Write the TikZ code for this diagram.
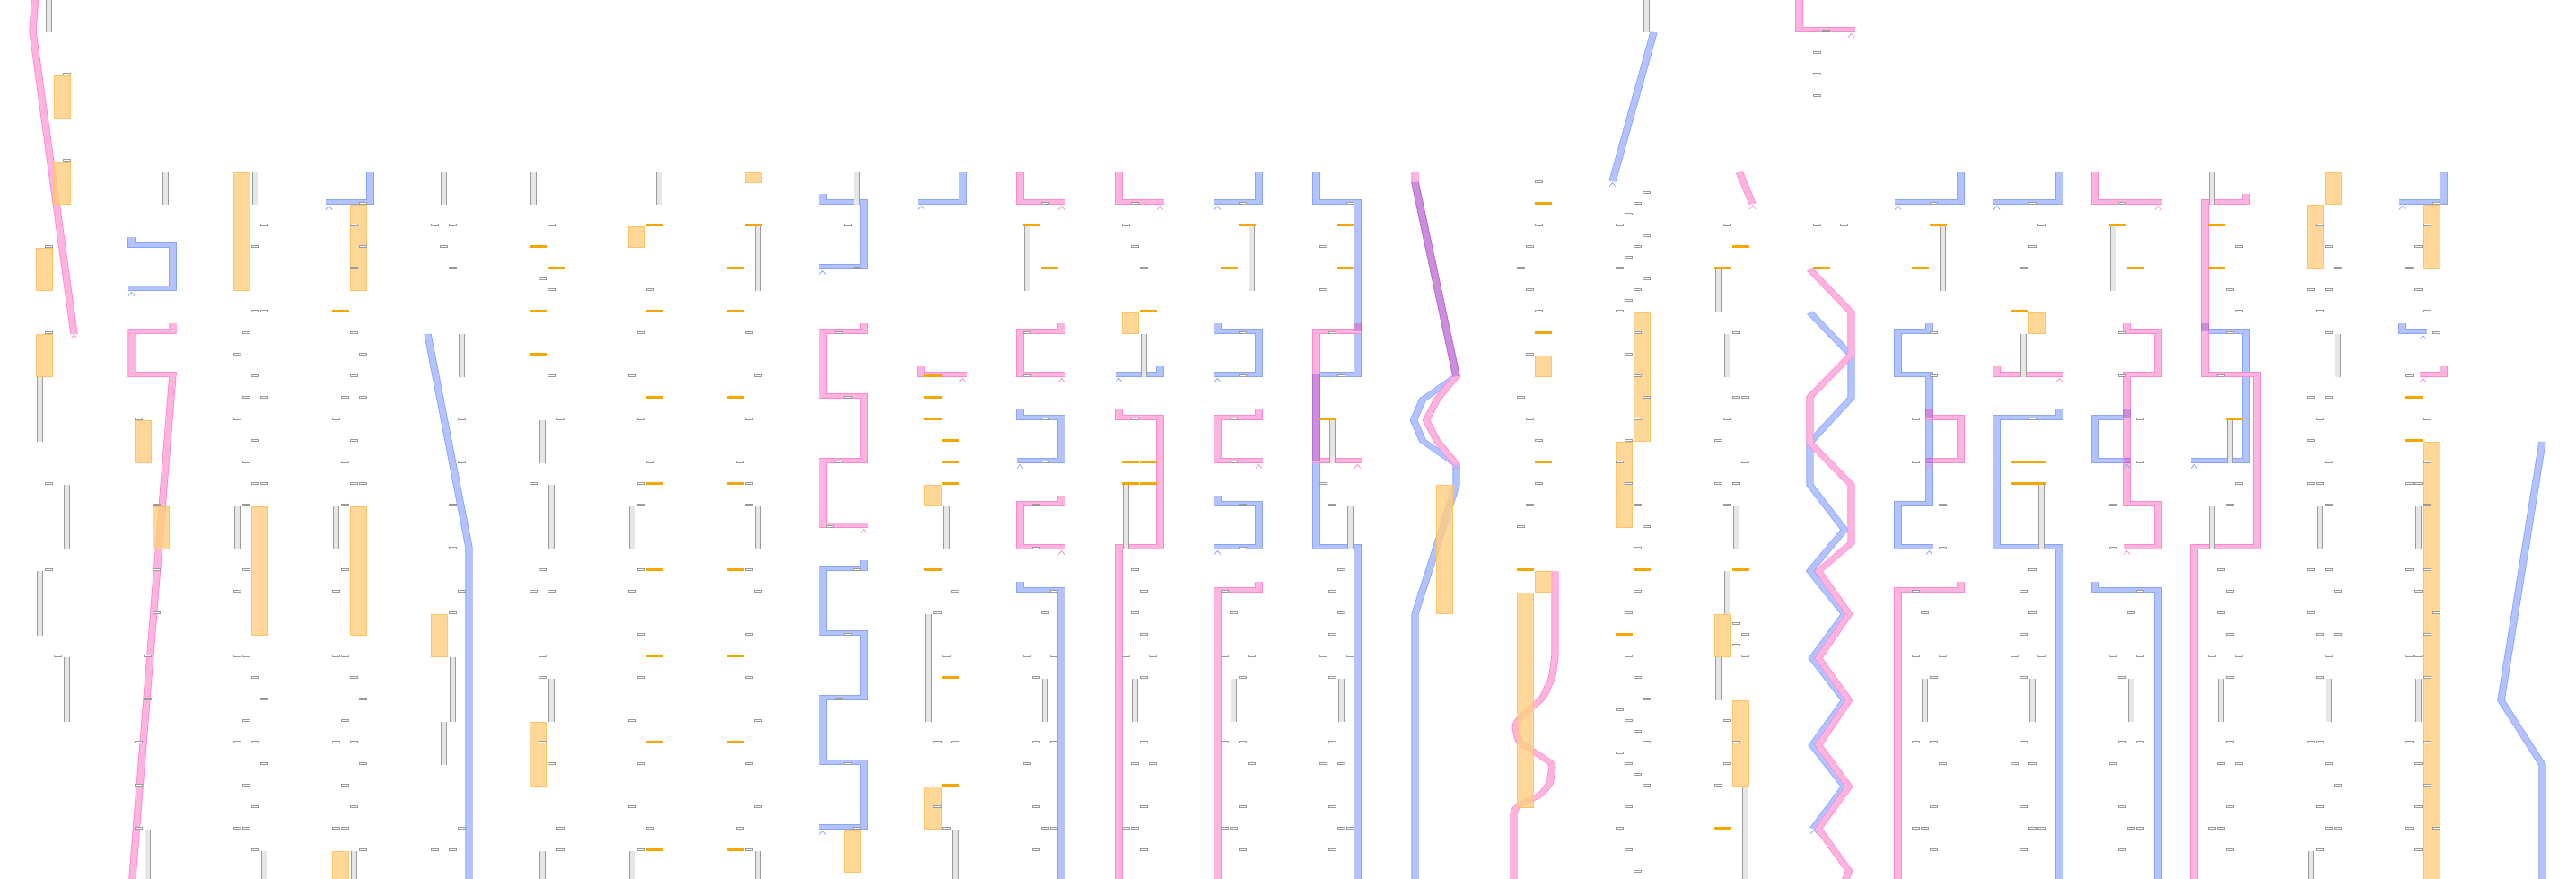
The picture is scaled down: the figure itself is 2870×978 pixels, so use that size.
\documentclass[tikz,border=0pt]{standalone}
\usepackage{tikz}
\definecolor{tickedge}{HTML}{9A9A9A}
\definecolor{barfill}{HTML}{E6E6E6}
\definecolor{baredge}{HTML}{9C9C9C}
\definecolor{orfill}{HTML}{FFCE80}
\definecolor{oredge}{HTML}{FFC466}
\definecolor{orline}{HTML}{F5A700}
\definecolor{bluefill}{HTML}{B3C3FF}
\definecolor{blueedge}{HTML}{89A4FF}
\definecolor{pinkfill}{HTML}{FFB3DF}
\definecolor{pinkedge}{HTML}{FF88D0}
\definecolor{mixfill}{HTML}{CC8EDC}
\definecolor{mixedge}{HTML}{B96CD3}

% lane helpers: #1 = left x of the lane, #2 = list of sub-column/row entries
\newcommand{\lanetick}[2]{\foreach \s/\k in {#2}{\draw[tickbox] ({#1+10*\s+0.4},{24*\k+9.4}) rectangle ++(8.2,2.2);}}
\newcommand{\laneoline}[2]{\foreach \s/\k in {#2}{\fill[orline] ({#1+10*\s},{24*\k+9}) rectangle ++(19,2.6);}}
\newcommand{\lanerect}[2]{\foreach \s/\m/\n in {#2}{\draw[orrect] ({#1+10*\s+0.4},{24*\m+12.4}) rectangle ({#1+10*\s+18.6},{24*\n+11.6});}}
\newcommand{\lanebar}[2]{\foreach \s/\m/\n in {#2}{%
  \fill[barfill] ({#1+10*\s+1},{24*\m+12}) rectangle ({#1+10*\s+8},{24*\n+12});
  \draw[baredge, line width=1pt] ({#1+10*\s+1.5},{24*\m+12}) -- ({#1+10*\s+1.5},{24*\n+12})
    ({#1+10*\s+7.5},{24*\m+12}) -- ({#1+10*\s+7.5},{24*\n+12});}}
\newcommand{\chev}[3]{\draw[#1, line width=0.8pt] ({#2-3.5},{#3+4}) -- (#2,#3) -- ({#2+3.5},{#3+4});}

\begin{document}
\begin{tikzpicture}[x=1pt, y=-1pt,
  tickbox/.style={draw=tickedge, fill=white, line width=0.8pt},
  orrect/.style={draw=oredge, fill=orfill, fill opacity=0.8, line width=0.8pt},
  track/.style={line width=0.9pt, double distance=6.5pt, line join=miter},
  bluetrack/.style={track, draw=blueedge, double=bluefill},
  pinktrack/.style={track, draw=pinkedge, double=pinkfill},
  mixtrack/.style={track, draw=mixedge, double=mixfill},
]
\path[use as bounding box, fill=white] (0,0) rectangle (2870,978);

% tracks (canvas squeezed vertically so flat runs come out thinner)
\begin{scope}[transform canvas={yscale=0.68}, y=-1.470588pt]
  \draw[bluetrack] (146.5,264) -- (146.5,273) -- (192.5,273) -- (192.5,321) -- (142.5,321);
  \draw[bluetrack] (412.5,192) -- (412.5,225) -- (362.5,225);
  \draw[bluetrack] (476.5,372) -- (522.5,610) -- (522.5,990);
  \draw[bluetrack] (916.5,216) -- (916.5,225) -- (962.5,225) -- (962.5,297) -- (912.5,297);
  \draw[bluetrack] (962.5,624) -- (962.5,633) -- (916.5,633) -- (916.5,705) -- (962.5,705) -- (962.5,777)
    -- (916.5,777) -- (916.5,849) -- (962.5,849) -- (962.5,921) -- (912.5,921);
  \draw[bluetrack] (1072.5,192) -- (1072.5,225) -- (1022.5,225);
  \draw[bluetrack] (1136.5,456) -- (1136.5,465) -- (1182.5,465) -- (1182.5,513) -- (1132.5,513);
  \draw[bluetrack] (1136.5,648) -- (1136.5,657) -- (1182.5,657) -- (1182.5,990);
  \draw[bluetrack] (1292.5,408) -- (1292.5,417) -- (1242.5,417);
  \draw[bluetrack] (1402.5,192) -- (1402.5,225) -- (1352.5,225);
  \draw[bluetrack] (1356.5,360) -- (1356.5,369) -- (1402.5,369) -- (1402.5,417) -- (1352.5,417);
  \draw[bluetrack] (1356.5,552) -- (1356.5,561) -- (1402.5,561) -- (1402.5,609) -- (1352.5,609);
  \draw[bluetrack] (1466.5,192) -- (1466.5,225) -- (1512.5,225) -- (1512.5,417) -- (1466.5,417)
    -- (1466.5,609) -- (1512.5,609) -- (1512.5,990);
  \draw[bluetrack] (1576.5,203) -- (1622.5,419) -- (1585,445) -- (1575,468) -- (1585,491) -- (1622.5,517)
    -- (1622.5,540) -- (1576.5,684) -- (1576.5,990);
  \draw[bluetrack] (1842.5,36) -- (1796.5,202);
  \draw[bluetrack] (2016.5,348) -- (2062.5,396) -- (2062.5,443) -- (2016.5,493) -- (2016.5,540) -- (2055,590)
    -- (2016.5,636) -- (2055,684) -- (2019,733) -- (2055,780) -- (2019,830) -- (2055,876) -- (2020,923);
  \draw[bluetrack] (2184.5,192) -- (2184.5,225) -- (2110.5,225);
  \draw[bluetrack] (2149.5,360) -- (2149.5,369) -- (2114.5,369) -- (2114.5,417) -- (2149.5,417) -- (2149.5,561)
    -- (2114.5,561) -- (2114.5,609) -- (2153.5,609);
  \draw[bluetrack] (2294.5,192) -- (2294.5,225) -- (2220.5,225);
  \draw[bluetrack] (2294.5,456) -- (2294.5,465) -- (2224.5,465) -- (2224.5,609) -- (2294.5,609) -- (2294.5,990);
  \draw[bluetrack] (2369.5,456) -- (2369.5,465) -- (2334.5,465) -- (2334.5,513) -- (2373.5,513);
  \draw[bluetrack] (2334.5,648) -- (2334.5,657) -- (2404.5,657) -- (2404.5,990);
  \draw[bluetrack] (2456.5,360) -- (2456.5,369) -- (2502.5,369) -- (2502.5,513) -- (2440.5,513);
  \draw[bluetrack] (2722.5,192) -- (2722.5,225) -- (2672.5,225);
  \draw[bluetrack] (2676.5,360) -- (2676.5,369) -- (2703.5,369);
  \draw[bluetrack] (2832.5,492) -- (2786.5,780) -- (2832.5,852) -- (2832.5,990);

  \draw[pinktrack] (39.7,-10) -- (36.5,35) -- (82.5,372);
  \draw[pinktrack] (192.5,360) -- (192.5,369) -- (146.5,369) -- (146.5,417) -- (192.5,417) -- (146.5,990);
  \draw[pinktrack] (962.5,360) -- (962.5,369) -- (916.5,369) -- (916.5,441) -- (962.5,441) -- (962.5,513)
    -- (916.5,513) -- (916.5,585) -- (966.5,585);
  \draw[pinktrack] (1026.5,408) -- (1026.5,417) -- (1076.5,417);
  \draw[pinktrack] (1136.5,192) -- (1136.5,225) -- (1186.5,225);
  \draw[pinktrack] (1182.5,360) -- (1182.5,369) -- (1136.5,369) -- (1136.5,417) -- (1186.5,417);
  \draw[pinktrack] (1182.5,552) -- (1182.5,561) -- (1136.5,561) -- (1136.5,609) -- (1186.5,609);
  \draw[pinktrack] (1246.5,192) -- (1246.5,225) -- (1296.5,225);
  \draw[pinktrack] (1246.5,456) -- (1246.5,465) -- (1292.5,465) -- (1292.5,609) -- (1246.5,609) -- (1246.5,990);
  \draw[pinktrack] (1402.5,456) -- (1402.5,465) -- (1356.5,465) -- (1356.5,513) -- (1406.5,513);
  \draw[pinktrack] (1402.5,648) -- (1402.5,657) -- (1356.5,657) -- (1356.5,990);
  \draw[pinktrack] (1512.5,360) -- (1512.5,369) -- (1466.5,369) -- (1466.5,513) -- (1516.5,513);
  \draw[pinktrack] (1576.5,192) -- (1576.5,203) -- (1622.5,419) -- (1601,445) -- (1589,468) -- (1601,491) -- (1622.5,517);
  \draw[pinktrack, rounded corners=5pt] (1732.5,636) -- (1732.5,731) -- (1729,755) -- (1719,777) -- (1693,800)
    -- (1688,808) -- (1692,826) -- (1730,851) -- (1727,872) -- (1717,885) -- (1692,897) -- (1686.5,903) -- (1686.5,990);
  \draw[pinktrack] (1938,192) -- (1952.5,227);
  \draw[pinktrack] (2004.5,-10) -- (2004.5,33) -- (2066.5,33);
  \draw[pinktrack] (2016.5,300) -- (2062.5,348) -- (2062.5,395) -- (2016.5,442) -- (2016.5,493) -- (2062.5,540)
    -- (2062.5,605) -- (2026,636) -- (2060,684) -- (2026,733) -- (2060,780) -- (2026,830) -- (2060,876)
    -- (2026,923) -- (2060,970) -- (2052,990);
  \draw[pinktrack] (2149.5,456) -- (2149.5,465) -- (2184.5,465) -- (2184.5,513) -- (2145.5,513);
  \draw[pinktrack] (2184.5,648) -- (2184.5,657) -- (2114.5,657) -- (2114.5,990);
  \draw[pinktrack] (2224.5,408) -- (2224.5,417) -- (2298.5,417);
  \draw[pinktrack] (2334.5,192) -- (2334.5,225) -- (2408.5,225);
  \draw[pinktrack] (2369.5,360) -- (2369.5,369) -- (2404.5,369) -- (2404.5,417) -- (2369.5,417) -- (2369.5,561)
    -- (2404.5,561) -- (2404.5,609) -- (2365.5,609);
  \draw[pinktrack] (2502.5,216) -- (2502.5,225) -- (2456.5,225) -- (2456.5,417) -- (2514.5,417) -- (2514.5,609)
    -- (2444.5,609) -- (2444.5,990);
  \draw[pinktrack] (2722.5,408) -- (2722.5,417) -- (2695.5,417);

  % where the two colours share a run
  \draw[mixtrack] (1576.5,203) -- (1622.5,419);
  \draw[mixtrack] (1466.5,417) -- (1466.5,513);
  \draw[mixtrack] (1512.5,360) -- (1512.5,369);
  \draw[mixtrack] (2149.5,456) -- (2149.5,465);
  \draw[mixtrack] (2145.5,513) -- (2153.5,513);
  \draw[mixtrack] (2369.5,456) -- (2369.5,465);
  \draw[mixtrack] (2365.5,513) -- (2373.5,513);
  \draw[mixtrack] (2456.5,360) -- (2456.5,369);
\end{scope}

% track ends
\foreach \x/\y in {146.5/325.5, 366.5/229.5, 916.5/301.5, 916.5/925.5, 1026.5/229.5, 1136.5/517.5,
  1246.5/421.5, 1356.5/229.5, 1356.5/421.5, 1356.5/613.5, 1796.5/203.5, 2021/924.5, 2114.5/229.5,
  2149.5/613.5, 2224.5/229.5, 2369.5/517.5, 2444.5/517.5, 2676.5/229.5, 2699.5/373.5}
  {\chev{blueedge}{\x}{\y}}
\foreach \x/\y in {82.5/373, 962.5/589.5, 1072.5/421.5, 1182.5/229.5, 1182.5/421.5, 1182.5/613.5,
  1292.5/229.5, 1402.5/517.5, 1512.5/517.5, 1622.5/519, 1952.5/229, 2062.5/37.5, 2149.5/517.5,
  2294.5/421.5, 2404.5/229.5, 2369.5/613.5, 2699.5/421.5}
  {\chev{pinkedge}{\x}{\y}}

% lane 0
\lanerect{40}{2/3/5, 2/7/9, 0/11/13, 0/15/17}
\lanebar{40}{1/-0.5/1, 0/17/20, 3/22/25, 0/26/29, 3/30/33}
\lanetick{40}{3/3, 3/7, 1/11, 1/15, 1/22, 1/26, 2/30}
% lane 1
\lanerect{150}{0/19/21, 2/23/25}
\lanebar{150}{3/7.5/9, 1/38/41}
\lanetick{150}{0/19, 2/23, 2/26, 2/28, 1/30, 1/32, 0/34, 0/36, 0/38}
% lane 2
\lanerect{260}{0/7.5/13, 2/23/29}
\lanebar{260}{2/7.5/9, 0/23/25, 3/39/41}
\lanetick{260}{3/10, 2/11, 2/14, 3/14, 1/15, 0/16, 2/17, 1/18, 3/18, 0/19, 2/20, 1/21, 2/22, 3/22, 1/23,
  1/26, 0/27, 0/30, 1/30, 2/31, 3/32, 1/33, 0/34, 2/34, 3/35, 1/36, 2/37, 0/38, 1/38, 2/39}
% lane 3
\lanerect{370}{2/9/13, 2/23/29, 0/39/41}
\lanebar{370}{0/23/25, 2/39/41}
\laneoline{370}{0/14}
\lanetick{370}{3/9, 2/10, 3/11, 2/12, 2/15, 3/16, 2/17, 1/18, 3/18, 0/19, 2/20, 1/21, 2/22, 3/22, 1/23,
  1/26, 0/27, 0/30, 1/30, 2/31, 3/32, 1/33, 0/34, 2/34, 3/35, 1/36, 2/37, 0/38, 1/38, 3/39}
% lane 4
\lanerect{480}{0/28/30}
\lanebar{480}{1/7.5/9, 3/15/17, 2/30/33, 1/33/35}
\lanetick{480}{0/10, 2/10, 1/11, 2/12, 3/19, 3/21, 2/23, 2/25, 3/27, 2/28, 3/38, 0/39, 2/39}
% lane 5
\lanerect{590}{0/33/36}
\lanebar{590}{0/7.5/9, 1/19/21, 2/22/25, 2/31/33, 1/39/41}
\laneoline{590}{0/11, 2/12, 0/14, 0/16}
\lanetick{590}{2/10, 1/12.5, 2/13, 2/17, 3/19, 0/22, 1/26, 0/27, 2/27, 1/30, 1/31, 1/34, 2/35, 3/38, 3/39}
% lane 6
\lanerect{700}{0/10/11}
\lanebar{700}{3/7.5/9, 0/23/25, 0/39/41}
\laneoline{700}{2/10, 2/14, 2/18, 2/22, 2/26, 2/30, 2/34, 2/39}
\lanetick{700}{2/13, 1/15, 0/17, 1/19, 2/21, 1/22, 1/23, 1/26, 0/27, 1/29, 1/31, 0/33, 1/35, 0/37, 2/38, 1/39}
% lane 7
\lanerect{810}{2/7.5/8}
\lanebar{810}{3/10/13, 3/23/25, 3/39/41}
\laneoline{810}{2/10, 0/12, 0/14, 0/18, 0/22, 0/26, 0/30, 0/34, 0/39}
\lanetick{810}{2/15, 3/17, 2/19, 1/21, 2/22, 2/23, 2/26, 3/27, 2/29, 2/31, 3/33, 2/35, 3/37, 1/38, 2/39}
% lane 8
\lanerect{920}{2/38/40}
\lanebar{920}{3/7.5/9}
\lanetick{920}{2/10, 3/12, 1/15, 2/18, 1/21, 0/24, 3/26, 2/29, 1/32, 2/35, 3/38}
% lane 9
\lanerect{1030}{0/22/23, 0/36/38}
\lanebar{1030}{2/23/25, 0/28/33, 3/38/41}
\laneoline{1030}{0/17, 0/18, 0/19, 2/20, 2/21, 2/22, 0/26, 2/31, 2/36}
\lanetick{1030}{3/27, 1/28, 2/30, 1/34, 3/34, 1/37, 2/38}
% lane 10
\lanebar{1140}{0/10/13, 2/31/33}
\laneoline{1140}{0/10, 2/12}
\lanetick{1140}{2/9, 0/15, 0/17, 2/19, 2/21, 1/23, 1/25, 3/27, 2/28, 0/30, 3/30, 1/31, 1/34, 3/34, 0/35,
  1/37, 2/38, 3/38, 1/39}
% lane 11
\lanerect{1250}{0/14/15}
\lanebar{1250}{2/15/17, 0/22/25, 1/31/33}
\laneoline{1250}{2/14, 0/21, 2/21, 0/22, 2/22}
\lanetick{1250}{1/9, 0/10, 1/11, 2/12, 1/19, 1/26, 2/27, 1/28, 2/29, 0/30, 3/30, 2/31, 2/34, 1/35, 3/35,
  2/37, 0/38, 1/38, 2/39}
% lane 12
\lanebar{1360}{3/10/13, 1/31/33}
\laneoline{1360}{2/10, 0/12}
\lanetick{1360}{2/9, 2/15, 2/17, 1/19, 1/21, 2/23, 2/25, 0/27, 1/28, 0/30, 3/30, 2/31, 0/34, 2/34, 3/35,
  2/37, 0/38, 1/38, 2/39}
% lane 13
\lanebar{1470}{1/19/21, 3/23/25, 2/31/33}
\laneoline{1470}{2/10, 2/12, 0/19}
\lanetick{1470}{3/9, 0/11, 0/13, 1/15, 2/17, 0/22, 1/23, 2/26, 1/27, 2/28, 1/29, 0/30, 3/30, 1/31, 1/34,
  0/35, 2/35, 1/37, 2/38, 3/38, 1/39}
% lane 14
\lanerect{1580}{2/22/28}
% lane 15
\lanerect{1690}{2/16/17, 2/26/27, 0/27/37}
\laneoline{1690}{2/9, 2/15, 2/21, 0/26}
\lanetick{1690}{2/8, 2/10, 1/11, 0/12, 1/13, 2/14, 1/16, 0/18, 1/19, 2/20, 2/22, 1/23, 0/24}
% lane 16
\lanerect{1800}{2/14/20, 0/20/24}
\lanebar{1800}{3/-0.5/1}
\laneoline{1800}{2/26, 0/29}
\lanetick{1800}{3/8.5, 2/9, 1/9.5, 0/10, 3/10.5, 2/11, 1/11.5, 0/12, 3/12.5, 2/13, 1/13.5, 0/14, 2/15, 1/16,
  2/17, 3/18, 2/19, 1/20, 0/21, 1/22, 2/23, 3/24, 2/25, 2/27, 1/28, 1/30, 2/31, 3/32, 0/32.5, 1/33,
  2/33.5, 3/34, 0/34.5, 1/35, 2/35.5, 3/36, 1/37, 0/38, 1/39, 2/40}
% lane 17
\lanerect{1910}{0/28/30, 2/32/36}
\lanebar{1910}{0/12/14, 1/15/17, 2/23/25, 1/26/28, 0/30/32, 3/36/41}
\laneoline{1910}{2/11, 0/12, 2/26, 0/38}
\lanetick{1910}{1/10, 2/15, 2/18, 3/18, 1/19, 0/20, 3/21, 0/22, 2/22, 1/23, 2/28.5, 3/29, 2/29.5, 3/30,
  1/33, 2/34, 1/35, 0/36}
% lane 18
\laneoline{2020}{0/12}
\lanetick{2020}{1/1, 0/2, 0/3, 0/4, 0/10, 3/10}
% lane 19
\lanebar{2130}{3/10/13, 1/31/33}
\laneoline{2130}{2/10, 0/12}
\lanetick{2130}{2/9, 2/15, 2/17, 0/19, 0/21, 3/23, 3/25, 0/27, 1/28, 0/30, 3/30, 2/31, 0/34, 2/34, 3/35,
  2/37, 0/38, 1/38, 2/39}
% lane 20
\lanerect{2240}{2/14/15}
\lanebar{2240}{1/15/17, 3/22/25, 2/31/33}
\laneoline{2240}{0/14, 0/21, 2/21, 0/22, 2/22}
\lanetick{2240}{2/9, 3/10, 2/11, 1/12, 2/19, 2/26, 1/27, 2/28, 1/29, 0/30, 3/30, 1/31, 1/34, 0/35, 2/35,
  1/37, 2/38, 3/38, 1/39}
% lane 21
\lanebar{2350}{0/10/13, 2/31/33}
\laneoline{2350}{0/10, 2/12}
\lanetick{2350}{1/9, 1/15, 1/17, 3/19, 3/21, 0/23, 0/25, 3/27, 2/28, 0/30, 3/30, 1/31, 1/34, 3/34, 0/35,
  1/37, 2/38, 3/38, 1/39}
% lane 22
\lanebar{2460}{0/7.5/9, 2/19/21, 0/23/25, 1/31/33}
\laneoline{2460}{0/10, 0/12, 2/19}
\lanetick{2460}{3/11, 2/13, 3/14, 2/15, 1/17, 3/22, 2/23, 1/26, 2/27, 1/28, 2/29, 0/30, 3/30, 2/31, 2/34,
  1/35, 3/35, 2/37, 0/38, 1/38, 2/39}
% lane 23
\lanerect{2570}{2/7.5/9, 0/9/12}
\lanebar{2570}{3/15/17, 1/23/25, 2/31/33, 0/39/41}
\lanetick{2570}{1/10, 2/11, 3/12, 0/13, 2/13, 1/14, 2/15, 0/18, 2/18, 1/19, 0/20, 2/21, 0/22, 1/22, 2/23,
  0/26, 2/26, 3/27, 0/28, 1/29, 3/29, 2/30, 1/31, 0/34, 1/34, 2/35, 3/36, 1/37, 2/38, 3/38, 1/39}
% lane 24
\lanerect{2680}{2/9/12, 2/20/41}
\lanebar{2680}{1/23/25, 1/31/33}
\laneoline{2680}{0/18, 0/20}
\lanetick{2680}{3/9, 2/10, 1/11, 0/12, 1/13, 2/14, 3/15, 0/17, 2/19, 2/21, 0/22, 1/22, 2/23, 0/26, 2/26,
  1/27, 3/28, 2/29, 0/30, 1/30, 2/31, 0/34, 2/34, 1/35, 2/36, 1/37, 0/38, 3/38, 1/39}
\end{tikzpicture}
\end{document}
